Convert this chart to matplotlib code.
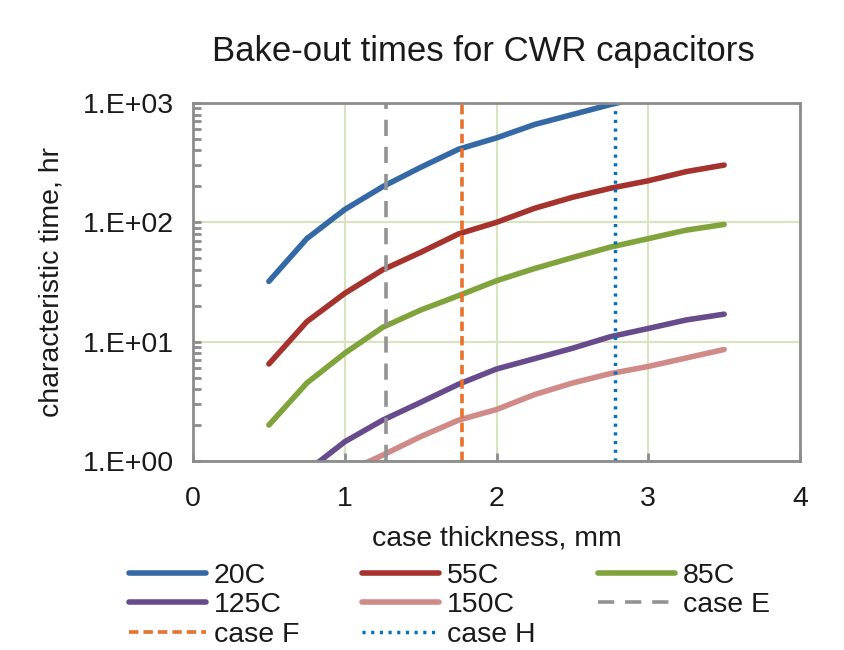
import numpy as np
import matplotlib
matplotlib.use('Agg')
import matplotlib.pyplot as plt
from matplotlib.ticker import FixedLocator, FuncFormatter, LogLocator, NullFormatter

plt.rcParams['font.family'] = ['Liberation Sans', 'DejaVu Sans']

# ---------------------------------------------------------------
# data
# ---------------------------------------------------------------
thickness = [0.5, 0.75, 1.0, 1.25, 1.5, 1.75, 2.0, 2.25, 2.5, 2.75, 3.0, 3.25, 3.5]

t_20C = [32, 73, 128, 199, 289, 410, 510, 660, 800, 970, 1150, 1350, 1550]
t_55C = [6.5, 14.7, 25.4, 40, 56, 80, 100, 131, 162, 193, 223, 266, 302]
t_85C = [2.0, 4.5, 8.0, 13.2, 18.4, 24.3, 32.4, 41, 50.6, 62, 73, 86, 96]
t_125C = [0.36, 0.82, 1.45, 2.2, 3.1, 4.4, 5.9, 7.2, 8.8, 11, 12.9, 15.2, 17]
t_150C = [0.19, 0.42, 0.8, 1.12, 1.6, 2.2, 2.7, 3.6, 4.5, 5.4, 6.2, 7.3, 8.6]

case_E = 1.27
case_F = 1.77
case_H = 2.78

series = [
    ('20C', t_20C, '#3469a6'),
    ('55C', t_55C, '#a5322d'),
    ('85C', t_85C, '#80a33b'),
    ('125C', t_125C, '#684b8c'),
    ('150C', t_150C, '#d08a88'),
]

# ---------------------------------------------------------------
# figure
# ---------------------------------------------------------------
fig = plt.figure(figsize=(8.44, 6.5), dpi=100)
ax = fig.add_axes([193 / 844, 1 - 461 / 650, 607 / 844, 358 / 650])

lineas = {}
for nombre, valores, color in series:
    lineas[nombre], = ax.plot(thickness, valores, color=color, lw=4.0,
                              solid_capstyle='round', solid_joinstyle='round',
                              label=nombre)

lineas['case E'] = ax.axvline(case_E, color='#939393', lw=2.6, ls=(0, (4.5, 3.0)),
                              label='case E')
lineas['case F'] = ax.axvline(case_F, color='#e8712b', lw=2.6, ls=(0, (2.6, 1.4)),
                              label='case F')
lineas['case H'] = ax.axvline(case_H, color='#0070c0', lw=2.5, ls=(0, (0.9, 1.6)),
                              label='case H')

ax.set_yscale('log')
ax.set_xlim(0, 4)
ax.set_ylim(1, 1000)

ax.xaxis.set_major_locator(FixedLocator([0, 1, 2, 3, 4]))
ax.yaxis.set_major_locator(FixedLocator([1, 10, 100, 1000]))
ax.yaxis.set_minor_locator(LogLocator(base=10, subs=np.arange(2, 10)))
ax.yaxis.set_minor_formatter(NullFormatter())
ax.yaxis.set_major_formatter(FuncFormatter(lambda v, p: '1.E+%02d' % int(round(np.log10(v)))))

ax.grid(True, which='major', color='#d7e4bd', lw=1.5)
ax.set_axisbelow(True)

for lado in ax.spines.values():
    lado.set_color('#8c8c8c')
    lado.set_linewidth(2)

ax.tick_params(axis='both', which='both', direction='in', color='#8c8c8c',
               labelsize=20.5, labelcolor='#1a1a1a')
ax.tick_params(axis='x', which='major', length=6, width=2, pad=18)
ax.tick_params(axis='y', which='major', length=6, width=2, pad=14)
ax.tick_params(axis='y', which='minor', length=6, width=2)

ax.set_xlabel('case thickness, mm', fontsize=20.5, color='#1a1a1a', labelpad=10)
ax.set_ylabel('characteristic time, hr', fontsize=20.5, color='#1a1a1a', labelpad=13)

fig.text(483 / 844, 1 - 52 / 650, 'Bake-out times for CWR capacitors',
         ha='center', va='center', fontsize=25, color='#1a1a1a')

# legend ordered row by row like the original
orden = ['20C', '125C', 'case F', '55C', '150C', 'case H', '85C', 'case E']
leg = fig.legend([lineas[k] for k in orden], orden, loc='upper left',
                 bbox_to_anchor=(129 / 844, 1 - 563 / 650), ncol=3,
                 frameon=False, fontsize=20.5, handlelength=2.7, handletextpad=0.28,
                 columnspacing=2.2, labelspacing=0.12, borderaxespad=0, borderpad=0)
for t in leg.get_texts():
    t.set_color('#1a1a1a')

fig.savefig('out.png', dpi=100)
